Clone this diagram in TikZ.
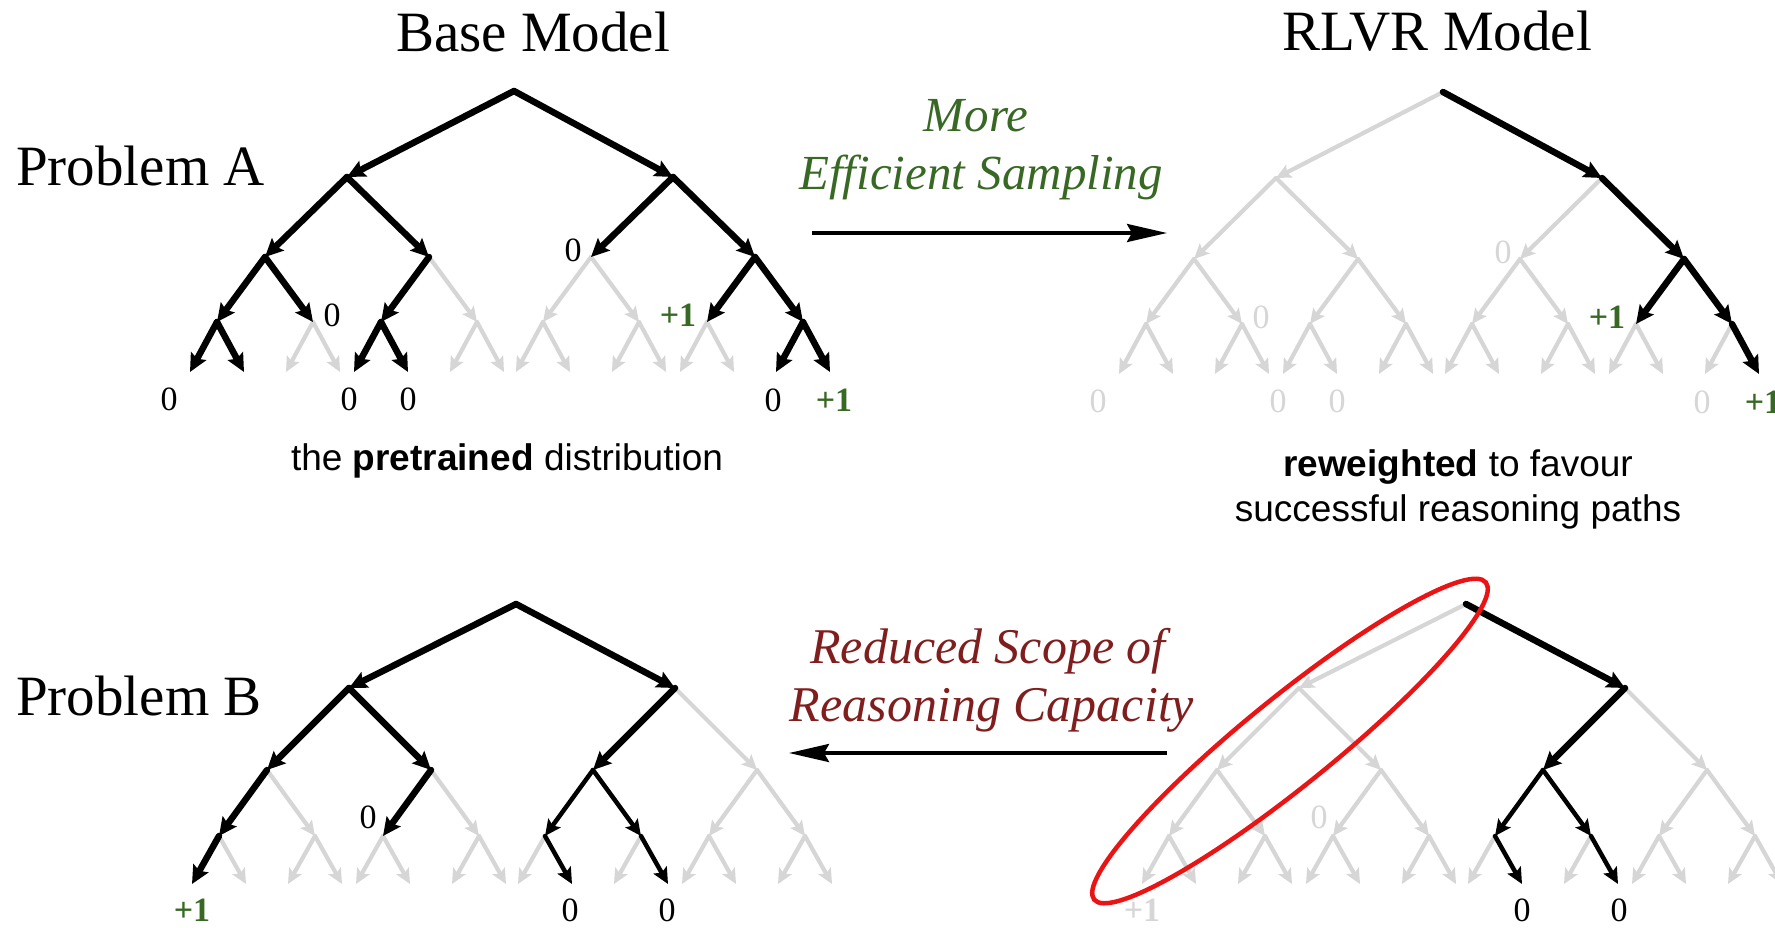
\documentclass[tikz,border=0pt]{standalone}
\usepackage{fontspec}
\setmainfont{Liberation Serif}
\setsansfont{Liberation Sans}
\usetikzlibrary{arrows.meta,shapes.geometric}

\definecolor{okgreen}{RGB}{56,105,36}
\definecolor{lossred}{RGB}{128,30,30}
\definecolor{faded}{RGB}{214,214,214}
\definecolor{ringred}{RGB}{235,20,20}

% Binary sampling tree: #1 name, #2 root x, #3 body x, #4..#8 y of the five levels
\newcommand\buildtree[8]{%
  \coordinate (#1-r) at (#2,#4);
  \foreach \kA/\sA in {0/-1,1/1}{%
    \coordinate (#1-\kA) at ({#3+\sA*163},#5);
    \foreach \kB/\sB in {0/-1,1/1}{%
      \coordinate (#1-\kA\kB) at ({#3+\sA*163+\sB*82},#6);
      \foreach \kC/\sC in {0/-1,1/1}{%
        \coordinate (#1-\kA\kB\kC) at ({#3+\sA*163+\sB*82+\sC*48},#7);
        \foreach \kD/\sD in {0/-1,1/1}{%
          \coordinate (#1-\kA\kB\kC\kD) at ({#3+\sA*163+\sB*82+\sC*48+\sD*27},#8);
        }}}}}

% Edges of a tree, given as parent/child pairs
\newcommand\treeedges[3]{\foreach \eP/\eC in {#3}{\draw[#2] (#1-\eP) -- (#1-\eC);}}

\begin{document}
\begin{tikzpicture}[x=1pt,y=-1pt,
  blk/.style={line width=6.5pt, line cap=round, -{Stealth[length=18pt,width=17pt,inset=3pt]}},
  blkthin/.style={line width=4.5pt, line cap=round, -{Stealth[length=16pt,width=15pt,inset=3pt]}},
  gry/.style={draw=faded, line width=4.2pt, line cap=round, -{Stealth[length=15pt,width=14pt,inset=3pt]}},
  num/.style={font=\fontsize{34}{36}\selectfont, inner sep=0pt},
  win/.style={font=\fontsize{34}{36}\selectfont\bfseries, text=okgreen, inner sep=0pt},
  ghost/.style={num, text=faded},
  ttl/.style={font=\fontsize{57}{62}\selectfont, inner sep=0pt},
  gain/.style={font=\fontsize{49}{54}\selectfont\itshape, text=okgreen, inner sep=0pt},
  loss/.style={font=\fontsize{50}{55}\selectfont\itshape, text=lossred, inner sep=0pt},
  capt/.style={font=\sffamily\fontsize{37}{44}\selectfont, inner sep=0pt},
  bigarrow/.style={line width=3.5pt, -{Stealth[length=40pt,width=18pt,inset=5pt]}},
]
\useasboundingbox (0,0) rectangle (1775,927);
\clip (0,0) rectangle (1775,927);

% ---------- tree coordinates ----------
\buildtree{BA}{514}{510}{91}{177}{257}{322}{372}
\buildtree{RA}{1443}{1439}{92}{178}{259}{324}{374}
\buildtree{BB}{516}{512}{604}{688}{770}{836}{884}
\buildtree{RB}{1466}{1462}{604}{688}{770}{836}{884}

% ---------- Problem A, base model ----------
\treeedges{BA}{gry}{01/011,10/100,10/101,001/0010,001/0011,011/0110,011/0111,100/1000,100/1001,101/1010,101/1011,110/1100,110/1101}
\treeedges{BA}{blk}{r/0,r/1,0/00,0/01,1/10,1/11,00/000,00/001,01/010,11/110,11/111,000/0000,000/0001,010/0100,010/0101,111/1110,111/1111}

% ---------- Problem A, RLVR model ----------
\treeedges{RA}{gry}{r/0,0/00,0/01,1/10,00/000,00/001,01/010,01/011,10/100,10/101,000/0000,000/0001,001/0010,001/0011,010/0100,010/0101,011/0110,011/0111,100/1000,100/1001,101/1010,101/1011,110/1100,110/1101,111/1110}
\treeedges{RA}{blk}{r/1,1/11,11/110,11/111,111/1111}

% ---------- Problem B, base model ----------
\treeedges{BB}{gry}{1/11,00/001,01/011,11/110,11/111,000/0001,001/0010,001/0011,010/0100,010/0101,011/0110,011/0111,100/1000,101/1010,110/1100,110/1101,111/1110,111/1111}
\treeedges{BB}{blk}{r/0,r/1,0/00,0/01,1/10,00/000,01/010,000/0000}
\treeedges{BB}{blkthin}{10/100,10/101,100/1001,101/1011}

% ---------- Problem B, RLVR model ----------
\treeedges{RB}{gry}{r/0,0/00,0/01,1/11,00/000,00/001,01/010,01/011,11/110,11/111,000/0000,000/0001,001/0010,001/0011,010/0100,010/0101,011/0110,011/0111,100/1000,101/1010,110/1100,110/1101,111/1110,111/1111}
\treeedges{RB}{blk}{r/1,1/10}
\treeedges{RB}{blkthin}{10/100,10/101,100/1001,101/1011}

% ---------- rewards ----------
\node[num] (BA-l10) at ([shift={(-18,-7)}]BA-10) {0};
\node[num] (BA-l001) at ([shift={(19,-7)}]BA-001) {0};
\node[win] (BA-l110) at ([shift={(-29,-7)}]BA-110) {+1};
\node[num] (BA-l0000) at ([shift={(-21,27)}]BA-0000) {0};
\node[num] (BA-l0100) at ([shift={(-5,27)}]BA-0100) {0};
\node[num] (BA-l0101) at ([shift={(0,27)}]BA-0101) {0};
\node[num] (BA-l1110) at ([shift={(-3,28)}]BA-1110) {0};
\node[win] (BA-l1111) at ([shift={(4,28)}]BA-1111) {+1};

\node[ghost] (RA-l10) at ([shift={(-17,-7)}]RA-10) {0};
\node[ghost] (RA-l001) at ([shift={(19,-7)}]RA-001) {0};
\node[win] (RA-l110) at ([shift={(-29,-7)}]RA-110) {+1};
\node[ghost] (RA-l0000) at ([shift={(-21,27)}]RA-0000) {0};
\node[ghost] (RA-l0100) at ([shift={(-5,27)}]RA-0100) {0};
\node[ghost] (RA-l0101) at ([shift={(0,27)}]RA-0101) {0};
\node[ghost] (RA-l1110) at ([shift={(-3,28)}]RA-1110) {0};
\node[win] (RA-l1111) at ([shift={(4,28)}]RA-1111) {+1};

\node[win] (BB-l0000) at ([shift={(0,26)}]BB-0000) {+1};
\node[num] (BB-l010) at ([shift={(-15,-19)}]BB-010) {0};
\node[num] (BB-l1001) at ([shift={(-2,26)}]BB-1001) {0};
\node[num] (BB-l1011) at ([shift={(-1,26)}]BB-1011) {0};

\node[ghost, font=\fontsize{34}{36}\selectfont\bfseries] (RB-l0000) at ([shift={(0,26)}]RB-0000) {+1};
\node[ghost] (RB-l010) at ([shift={(-14,-19)}]RB-010) {0};
\node[num] (RB-l1001) at ([shift={(0,26)}]RB-1001) {0};
\node[num] (RB-l1011) at ([shift={(1,26)}]RB-1011) {0};

% ---------- headings ----------
\node[ttl, anchor=base] (tBase) at (533,51) {Base Model};
\node[ttl, anchor=base] (tRLVR) at (1437,50) {RLVR Model};
\node[ttl, anchor=base west] (pA) at (16,185) {Problem A};
\node[ttl, anchor=base west] (pB) at (16,715) {Problem B};

% ---------- captions ----------
\node[capt, anchor=base] (cBase) at (507,470) {the \textbf{pretrained} distribution};
\node[capt, anchor=base] (cRL1) at (1458,476) {\textbf{reweighted} to favour};
\node[capt, anchor=base] (cRL2) at (1458,521) {successful reasoning paths};

% ---------- transitions ----------
\node[gain, anchor=base] (g1) at (976,131) {More};
\node[gain, anchor=base] (g2) at (981,189) {Efficient Sampling};
\coordinate (sampleL) at (812,233);
\coordinate (sampleR) at (1167,233);
\draw[bigarrow] (sampleL) -- (sampleR);

\node[loss, anchor=base] (l1) at (988,663) {Reduced Scope of};
\node[loss, anchor=base] (l2) at (992,721) {Reasoning Capacity};
\coordinate (scopeR) at (1167,753);
\coordinate (scopeL) at (789,753);
\draw[bigarrow] (scopeR) -- (scopeL);

% ---------- lost branch ----------
\node[draw=ringred, line width=4.5pt, ellipse, minimum width=504pt, minimum height=88pt,
      inner sep=0pt, rotate=39] (ring) at (1290,741) {};
\end{tikzpicture}
\end{document}
